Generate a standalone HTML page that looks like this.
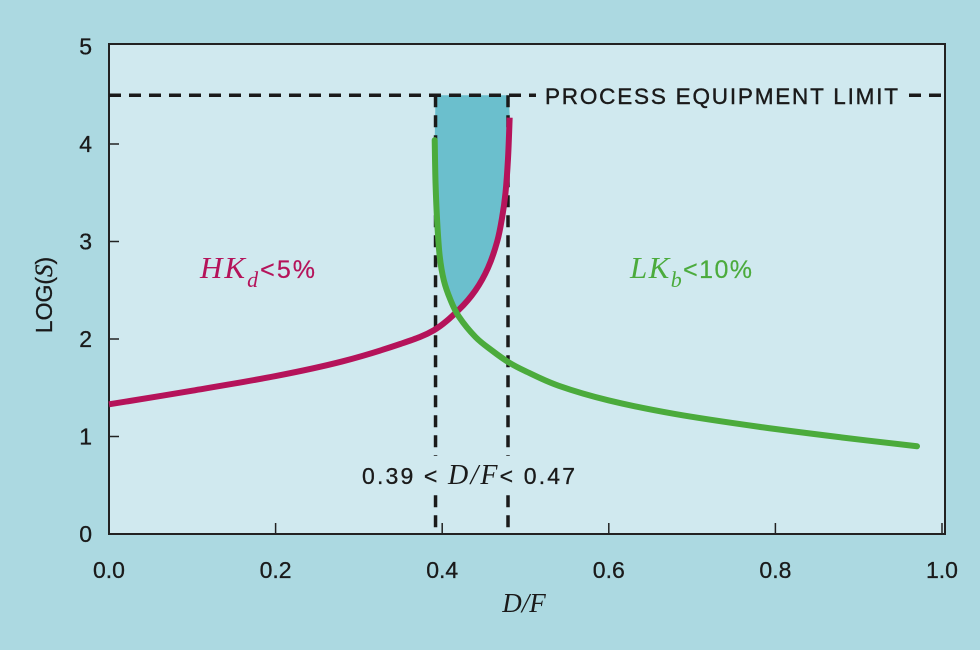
<!DOCTYPE html>
<html><head><meta charset="utf-8"><style>
body{margin:0;background:#acd9e1;}
svg{display:block;font-family:"Liberation Sans",sans-serif;}
</style></head><body>
<svg id="chart" width="980" height="650">
<rect x="0" y="0" width="980" height="650" fill="#acd9e1"/>
<rect x="109" y="44" width="836" height="490" fill="#d0e9ef" stroke="#222" stroke-width="2"/>
<g id="g"></g>
</svg>
<script>
const xTicks=[0,0.2,0.4,0.6,0.8,1.0];
const xTickLabels=["0.0","0.2","0.4","0.6","0.8","1.0"];
const yTicks=[0,1,2,3,4,5];
const hkX=[0,0.1,0.2,0.28,0.35,0.39,0.42,0.44,0.455,0.466,0.472,0.476,0.479,0.481];
const hkY=[1.33,1.47,1.62,1.77,1.95,2.09,2.3,2.5,2.73,3.0,3.25,3.5,3.85,4.27];
const lkX=[0.391,0.392,0.394,0.397,0.402,0.41,0.42,0.44,0.46,0.48,0.5,0.54,0.6,0.68,0.78,0.88,0.97];
const lkY=[4.04,3.6,3.2,2.85,2.6,2.4,2.23,2.02,1.88,1.76,1.67,1.52,1.37,1.23,1.1,0.99,0.9];
const limitY=4.5, rangeLo=0.392, rangeHi=0.479;
const X=v=>109+833*v, Y=v=>534-97.5*v;
const g=document.getElementById('g'), NS='http://www.w3.org/2000/svg';
function mk(t,a,txt){const e=document.createElementNS(NS,t);for(const k in a)e.setAttribute(k,a[k]);if(txt!=null)e.textContent=txt;g.appendChild(e);return e;}
function smooth(xs,ys){
  const p=xs.map((v,i)=>[X(v),Y(ys[i])]);
  let d='M'+p[0][0]+','+p[0][1];
  for(let i=0;i<p.length-1;i++){
    const p0=p[i-1]||p[i],p1=p[i],p2=p[i+1],p3=p[i+2]||p2;
    const c1=[p1[0]+(p2[0]-p0[0])/6,p1[1]+(p2[1]-p0[1])/6];
    const c2=[p2[0]-(p3[0]-p1[0])/6,p2[1]-(p3[1]-p1[1])/6];
    d+=' C'+c1+' '+c2+' '+p2;
  }
  return d;
}
const inter=0.413;
let lx=[],ly=[];
for(let i=0;i<lkX.length;i++) if(lkX[i]<=inter){lx.push(lkX[i]);ly.push(lkY[i]);}
lx.push(inter);ly.push(2.28);
let hx=[inter],hy=[2.28];
for(let i=0;i<hkX.length;i++) if(hkX[i]>inter){hx.push(hkX[i]);hy.push(hkY[i]);}
hx.push(rangeHi);hy.push(limitY);
let d='M'+X(rangeLo)+','+Y(limitY)+' L'+smooth(lx,ly).slice(1)+' '+smooth(hx,hy).replace(/^M/,'L')+' Z';
let e=mk('path',{d:d,fill:'#6bbfcd'});


e=mk('line',{x1:X(0),y1:Y(limitY),x2:945,y2:Y(limitY),stroke:'#1a1a1a','stroke-width':3.5,'stroke-dasharray':'12,8'});


e=mk('rect',{x:536,y:82,width:368,height:28,fill:'#d0e9ef'});
e=mk('text',{x:545,y:104,'font-size':22.5,fill:'#1a1a1a','stroke':'#1a1a1a','stroke-width':0.4,textLength:353},'PROCESS EQUIPMENT LIMIT');


[rangeLo,rangeHi].forEach((v,i)=>{
e=mk('line',{x1:X(v),y1:Y(limitY),x2:X(v),y2:534,stroke:'#1a1a1a','stroke-width':3.5,'stroke-dasharray':'12,8'});


});
e=mk('path',{d:smooth(hkX,hkY),fill:'none',stroke:'#b5135a','stroke-width':6,'stroke-linejoin':'round'});


e=mk('path',{d:smooth(lkX,lkY),fill:'none',stroke:'#4bab3c','stroke-width':6,'stroke-linecap':'round','stroke-linejoin':'round'});


xTicks.forEach((v,i)=>{
e=mk('line',{x1:X(v),y1:534,x2:X(v),y2:523,stroke:'#222','stroke-width':1.5});
e=mk('text',{x:X(v),y:578,'font-size':23,'text-anchor':'middle',fill:'#1a1a1a','stroke':'#1a1a1a','stroke-width':0.3},xTickLabels[i]);


});
yTicks.forEach(v=>{
if(v>0&&v<5) mk('line',{x1:109,y1:Y(v),x2:119,y2:Y(v),stroke:'#222','stroke-width':1.5});
e=mk('text',{x:92,y:Y(v)+8,'font-size':23,'text-anchor':'end',fill:'#1a1a1a','stroke':'#1a1a1a','stroke-width':0.3},String(v));


});
</script>
<div style="position:absolute;left:0;top:0;width:980px;height:650px;pointer-events:none;">
<svg width="980" height="650" style="position:absolute;left:0;top:0;">
<text x="52" y="295" font-size="23" fill="#1a1a1a" stroke="#1a1a1a" stroke-width="0.3" transform="rotate(-90 52 295)" text-anchor="middle" font-family="Liberation Sans,sans-serif">LOG(<tspan font-family="Liberation Serif,serif" font-style="italic" font-size="25">S</tspan>)</text>
<text x="524" y="612" font-size="27" fill="#1a1a1a" text-anchor="middle" font-family="Liberation Serif,serif" font-style="italic">D/F</text>
<text x="200" y="278" font-size="31" fill="#b5135a" font-family="Liberation Serif,serif" font-style="italic" textLength="115">HK<tspan font-size="22" dy="9">d</tspan><tspan dy="-9" font-style="normal" font-family="Liberation Sans,sans-serif" font-size="25" stroke="#b5135a" stroke-width="0.2">&lt;5%</tspan></text>
<text x="630" y="278" font-size="31" fill="#4bab3c" font-family="Liberation Serif,serif" font-style="italic" textLength="122">LK<tspan font-size="22" dy="9">b</tspan><tspan dy="-9" font-style="normal" font-family="Liberation Sans,sans-serif" font-size="25" stroke="#4bab3c" stroke-width="0.2">&lt;10%</tspan></text>
<rect x="355" y="456" width="228" height="36" fill="#d0e9ef"/>
<text x="362" y="484" font-size="23" fill="#1a1a1a" font-family="Liberation Sans,sans-serif" textLength="213"><tspan stroke="#1a1a1a" stroke-width="0.3">0.39 &lt; </tspan><tspan font-family="Liberation Serif,serif" font-style="italic" font-size="28">D/F</tspan><tspan stroke="#1a1a1a" stroke-width="0.3">&lt; 0.47</tspan></text>
</svg></div>
</body></html>
